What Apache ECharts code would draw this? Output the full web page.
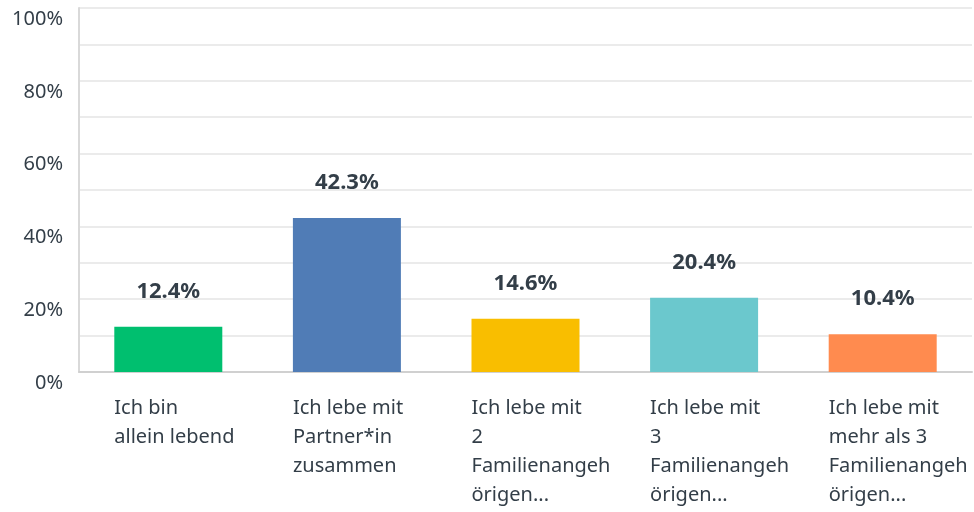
<!DOCTYPE html>
<html><head><meta charset="utf-8">
<script src="https://cdn.jsdelivr.net/npm/echarts@6/dist/echarts.min.js"></script>
<style>html,body{margin:0;padding:0;background:#fff}#c{width:974px;height:512px}</style>
</head><body><div id="c"></div>
<script>
const categories = [
  ["Ich bin", "allein lebend"],
  ["Ich lebe mit", "Partner*in", "zusammen"],
  ["Ich lebe mit", "2", "Familienangeh", "örigen..."],
  ["Ich lebe mit", "3", "Familienangeh", "örigen..."],
  ["Ich lebe mit", "mehr als 3", "Familienangeh", "örigen..."]
];
const values = [12.4, 42.3, 14.6, 20.4, 10.4];
const colors = ["#00bf6f", "#507cb6", "#f9be00", "#6bc8cd", "#ff8b4f"];
const yTicks = [0, 20, 40, 60, 80, 100];

const font = "'Noto Sans', sans-serif";
const chart = echarts.init(document.getElementById('c'));
chart.setOption({
  animation: false,
  grid: { left: 79, right: 2, top: 8, bottom: 140, containLabel: false },
  xAxis: {
    type: 'category',
    data: categories.map(l => l.join('\n')),
    axisTick: { show: false },
    axisLine: { lineStyle: { color: '#d0d0d0', width: 2 } },
    axisLabel: {
      interval: 0,
      margin: 22,
      formatter: v => v.split('\n').map(s => '{a|' + s + '}').join('\n'),
      rich: { a: { align: 'left', width: 108, fontSize: 20, lineHeight: 29, color: '#333e48', fontFamily: font } }
    }
  },
  yAxis: {
    type: 'value', min: 0, max: 100, interval: 10,
    axisLine: { show: true, lineStyle: { color: '#d9d9d9', width: 2 } },
    axisTick: { show: false },
    splitLine: { lineStyle: { color: '#ebebeb', width: 2 } },
    axisLabel: {
      margin: 16, fontSize: 20, color: '#333e48', fontFamily: font,
      verticalAlign: 'top', padding: [1, 0, 0, 0],
      formatter: v => yTicks.includes(v) ? v + '%' : ''
    }
  },
  series: [{
    type: 'bar',
    barWidth: 108,
    data: values.map((v, i) => ({ value: v, itemStyle: { color: colors[i] } })),
    label: {
      show: true, position: 'top', distance: 24,
      formatter: p => p.value.toFixed(1) + '%',
      fontSize: 22, fontWeight: 'bold', color: '#333e48', fontFamily: font
    }
  }]
});
</script></body></html>
